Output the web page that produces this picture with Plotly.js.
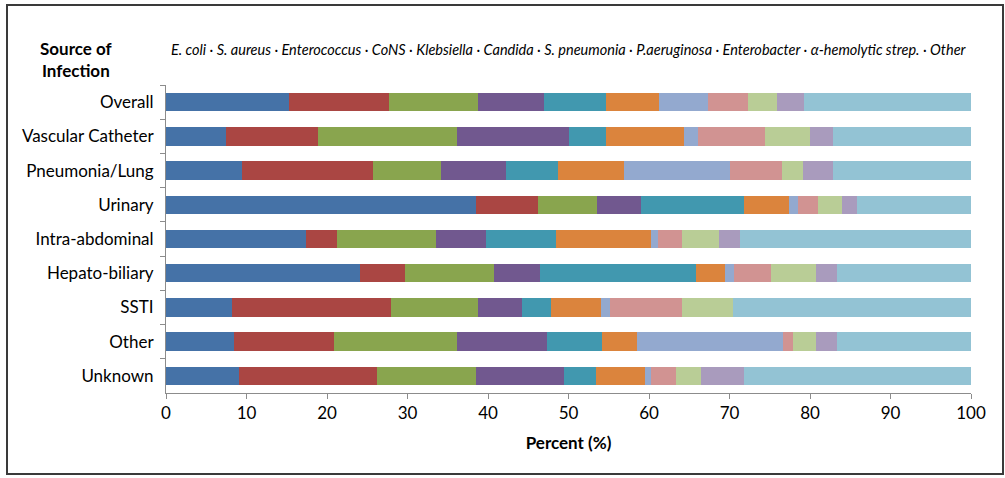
<!DOCTYPE html>
<html>
<head>
<meta charset="utf-8">
<script src="https://cdn.plot.ly/plotly-3.0.1.min.js"></script>
<style>
html,body{margin:0;padding:0;background:#fff;}
#frame{position:absolute;left:6px;top:4px;width:994px;height:467px;border:2px solid #3a3a3a;box-sizing:content-box;}
#chart{position:absolute;left:0;top:0;width:1005px;height:478px;}
</style>
</head>
<body>
<div id="frame"></div>
<div id="chart"></div>
<script>
const categories = ["Overall","Vascular Catheter","Pneumonia/Lung","Urinary","Intra-abdominal","Hepato-biliary","SSTI","Other","Unknown"];
const seriesNames = ["E. coli","S. aureus","Enterococcus","CoNS","Klebsiella","Candida","S. pneumonia","P.aeruginosa","Enterobacter","α-hemolytic strep.","Other"];
const ecoli        = [15.3, 7.5, 9.5, 38.5, 17.4, 24.1, 8.2, 8.4, 9.1];
const saureus      = [12.4, 11.4, 16.2, 7.7, 3.8, 5.6, 19.8, 12.5, 17.1];
const enterococcus = [11.1, 17.2, 8.4, 7.4, 12.3, 11.0, 10.8, 15.2, 12.3];
const cons         = [8.2, 13.9, 8.1, 5.4, 6.3, 5.7, 5.4, 11.2, 10.9];
const klebsiella   = [7.7, 4.7, 6.5, 12.8, 8.6, 19.4, 3.6, 6.9, 4.0];
const candida      = [6.6, 9.6, 8.2, 5.6, 11.8, 3.7, 6.2, 4.3, 6.1];
const spneumonia   = [6.0, 1.8, 13.1, 1.1, 0.9, 1.0, 1.1, 18.1, 0.8];
const paeruginosa  = [5.0, 8.3, 6.5, 2.5, 3.0, 4.6, 9.0, 1.3, 3.1];
const enterobacter = [3.6, 5.6, 2.6, 3.0, 4.6, 5.6, 6.3, 2.8, 3.1];
const ahstrep      = [3.4, 2.9, 3.8, 1.8, 2.6, 2.7, 0.0, 2.7, 5.3];
const other        = [20.7, 17.1, 17.1, 14.2, 28.7, 16.6, 29.6, 16.6, 28.2];
const seriesValues = [ecoli, saureus, enterococcus, cons, klebsiella, candida, spneumonia, paeruginosa, enterobacter, ahstrep, other];
const colors = ["#4572A7","#AA4643","#89A54E","#71588F","#4198AF","#DB843D","#93A9CF","#D19392","#B9CD96","#A99BBD","#93C3D4"];
const xTicks = [0,10,20,30,40,50,60,70,80,90,100];

const FONT = "Lato, 'Open Sans', sans-serif";

const traces = seriesNames.map((name, i) => ({
  type: "bar",
  orientation: "h",
  name: name,
  y: categories,
  x: seriesValues[i],
  marker: {color: colors[i], line: {width: 0}},
  hoverinfo: "name+x"
}));

const layout = {
  width: 1005,
  height: 478,
  margin: {l: 166, r: 34, t: 85, b: 85},
  paper_bgcolor: "rgba(0,0,0,0)",
  plot_bgcolor: "rgba(0,0,0,0)",
  barmode: "stack",
  bargap: 0.46,
  showlegend: false,
  font: {family: FONT, size: 15, color: "#000"},
  xaxis: {
    range: [0, 100],
    tickvals: xTicks,
    ticktext: xTicks.map(String),
    showgrid: false,
    zeroline: false,
    showline: true,
    linecolor: "#8c8c8c",
    linewidth: 1,
    ticks: "outside",
    ticklen: 5,
    tickcolor: "#8c8c8c",
    tickfont: {family: FONT, size: 17, color: "#000"},
    title: {text: "<b>Percent (%)</b>", font: {family: FONT, size: 17, color: "#000"}, standoff: 14}
  },
  yaxis: {
    type: "category",
    autorange: "reversed",
    showgrid: false,
    zeroline: false,
    showline: true,
    linecolor: "#8c8c8c",
    linewidth: 1,
    ticks: "outside",
    tickson: "boundaries",
    ticklen: 5,
    tickcolor: "#8c8c8c",
    ticklabelstandoff: 8,
    tickfont: {family: FONT, size: 17, color: "#000"}
  },
  annotations: [
    {text: "<b>Source of<br>Infection</b>", xref: "paper", yref: "paper", x: -0.111, y: 1.084, xanchor: "center", yanchor: "middle", showarrow: false, align: "center", font: {family: FONT, size: 17, color: "#000"}},
    {text: "<i>" + seriesNames.join(" · ") + "</i>", xref: "paper", yref: "paper", x: 0.5, y: 1.114, xanchor: "center", yanchor: "middle", showarrow: false, font: {family: FONT, size: 14.5, color: "#000"}}
  ]
};

Plotly.newPlot("chart", traces, layout, {displayModeBar: false, staticPlot: true});
</script>
</body>
</html>
